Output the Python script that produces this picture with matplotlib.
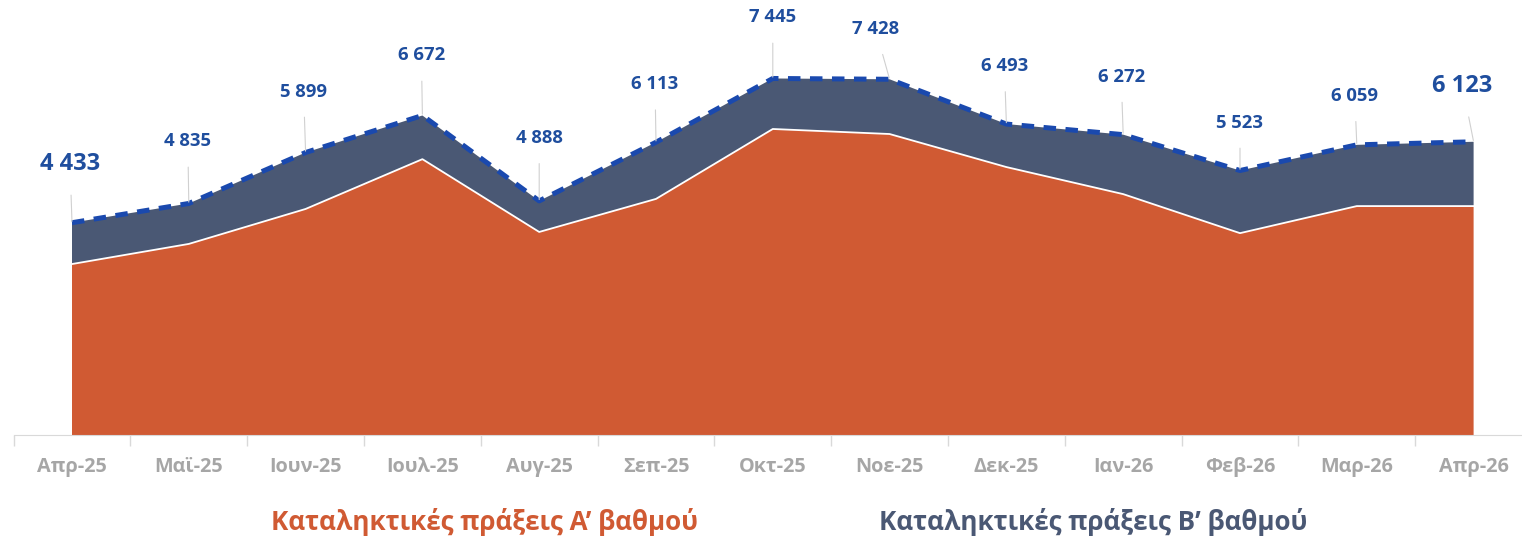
import matplotlib.pyplot as plt
import numpy as np

plt.rcParams['font.family'] = ['Open Sans', 'DejaVu Sans']

months = ['Απρ-25', 'Μαϊ-25', 'Ιουν-25', 'Ιουλ-25', 'Αυγ-25', 'Σεπ-25', 'Οκτ-25',
          'Νοε-25', 'Δεκ-25', 'Ιαν-26', 'Φεβ-26', 'Μαρ-26', 'Απρ-26']
total = [4433, 4835, 5899, 6672, 4888, 6113, 7445, 7428, 6493, 6272, 5523, 6059, 6123]
grade_a = [3570, 3990, 4720, 5760, 4240, 4930, 6390, 6285, 5595, 5030, 4215, 4780, 4780]
grade_b = [t - a for t, a in zip(total, grade_a)]

# label offsets in pixels (dx, dy) from the point
offsets = [(-2, 59), (-1, 62), (-2, 61), (-1, 60), (0, 63), (-1, 58), (0, 61),
           (-14, 50), (-2, 58), (-2, 58), (0, 48), (-2, 49), (-11, 56)]

ORANGE = '#D05A33'
SLATE = '#4A5874'
BLUE = '#1A49AE'
LABEL = '#1F4E9E'
GREY = '#A6A6A6'

W, H = 1522, 537
fig = plt.figure(figsize=(W / 100, H / 100), dpi=100)
step = 116.8
left = 72 - step / 2
ax = fig.add_axes([left / W, (H - 435) / H, step * 13 / W, 431 / H])

x = np.arange(len(months))
ax.stackplot(x, grade_a, grade_b, colors=[ORANGE, SLATE], linewidth=0)
ax.plot(x, grade_a, color='white', lw=1.3)
ax.plot(x, total, color=BLUE, lw=3.6, dashes=(2.5, 1.9), solid_capstyle='butt')

for i, v in enumerate(total):
    big = i in (0, len(total) - 1)
    dx, dy = offsets[i]
    ax.annotate(f'{v:,}'.replace(',', ' '), (i, v), xytext=(dx, dy),
                textcoords='offset pixels', ha='center', va='center',
                fontsize=17 if big else 13.3, fontweight='bold', color=LABEL,
                arrowprops=dict(arrowstyle='-', color='#D0D0D0', lw=0.8,
                                shrinkA=10 if not big else 12, shrinkB=1))

ax.set_xlim(-0.5, 12.5)
ax.set_ylim(0, 9000)
ax.set_xticks(x)
ax.set_xticklabels(months, fontsize=14.3, fontweight='bold', color=GREY)
ax.set_xticks(np.arange(-0.5, 13, 1), minor=True)
ax.tick_params(axis='x', which='major', length=0, pad=16)
ax.tick_params(axis='x', which='minor', length=8, color='#D9D9D9', width=1)
ax.set_yticks([])
for s in ['top', 'right', 'left']:
    ax.spines[s].set_visible(False)
ax.spines['bottom'].set_color('#D9D9D9')

fig.text(484 / W, 1 - 522 / H, 'Καταληκτικές πράξεις Α’ βαθμού', ha='center', va='center',
         fontsize=18.7, fontweight='bold', color=ORANGE)
fig.text(1093 / W, 1 - 522 / H, 'Καταληκτικές πράξεις Β’ βαθμού', ha='center', va='center',
         fontsize=18.7, fontweight='bold', color=SLATE)

fig.savefig('out.png', dpi=100)
